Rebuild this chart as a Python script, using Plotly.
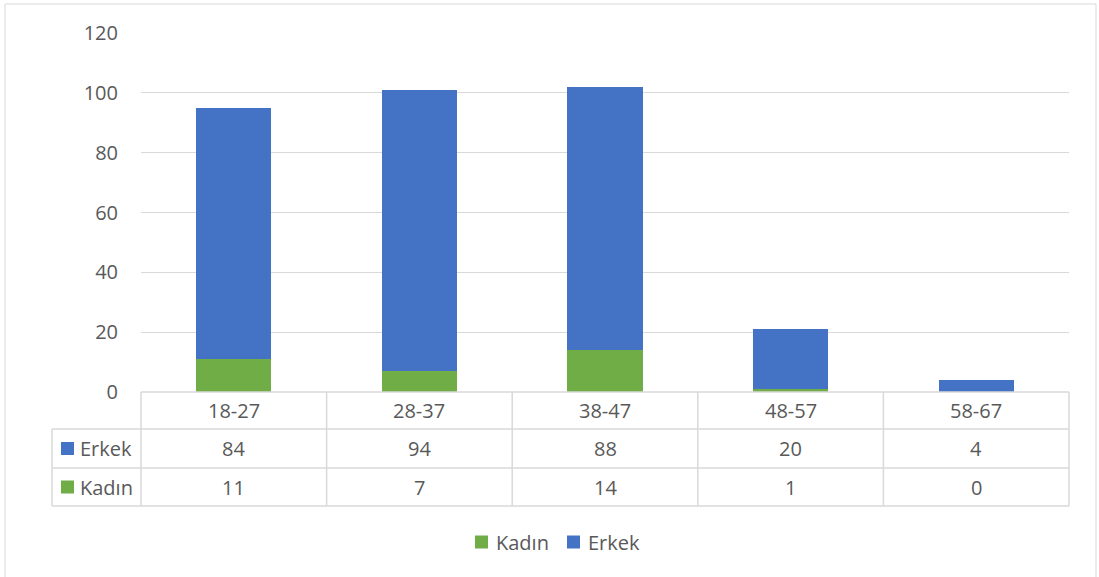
import plotly.graph_objects as go

categories = ["18-27", "28-37", "38-47", "48-57", "58-67"]
erkek = [84, 94, 88, 20, 4]
kadin = [11, 7, 14, 1, 0]
y_ticks = [0, 20, 40, 60, 80, 100, 120]

BLUE = "#4472C4"
GREEN = "#70AD47"
GRID = "#d9d9d9"
TXT = "#595959"
FONT = "Open Sans"
FS = 20

W, H = 1099, 577
L, R, T, B = 141, 1069, 33, 392  # plot area pixels
PW, PH = R - L, B - T


def px(x):
    return (x - L) / PW


def py(y):
    return (B - y) / PH


fig = go.Figure()
fig.add_trace(go.Bar(x=categories, y=kadin, name="Kadın", marker_color=GREEN,
                     width=0.405, marker_line_width=0))
fig.add_trace(go.Bar(x=categories, y=erkek, name="Erkek", marker_color=BLUE,
                     width=0.405, marker_line_width=0))

shapes = []
annotations = []
n = len(categories)
row_y = [392, 429, 468, 506]  # table row boundaries (pixels)
left_x = 52


def line(x0, y0, x1, y1):
    shapes.append(dict(type="line", xref="paper", yref="paper",
                       x0=x0, y0=y0, x1=x1, y1=y1,
                       line=dict(color=GRID, width=1.5), layer="above"))

# horizontal lines
line(0, py(row_y[0]), 1, py(row_y[0]))
for yy in row_y[1:]:
    line(px(left_x), py(yy), 1, py(yy))
# vertical lines
for i in range(n + 1):
    line(i / n, py(row_y[0]), i / n, py(row_y[-1]))
line(px(left_x), py(row_y[1]), px(left_x), py(row_y[-1]))

# category headers and values
rows = [("Erkek", erkek, BLUE), ("Kadın", kadin, GREEN)]
for i, c in enumerate(categories):
    xc = (i + 0.5) / n
    annotations.append(dict(xref="paper", yref="paper", x=xc,
                            y=py((row_y[0] + row_y[1]) / 2), text=c,
                            showarrow=False, xanchor="center", yanchor="middle",
                            font=dict(family=FONT, size=FS, color=TXT)))
    for r, (name, vals, col) in enumerate(rows):
        yc = (row_y[r + 1] + row_y[r + 2]) / 2
        annotations.append(dict(xref="paper", yref="paper", x=xc, y=py(yc),
                                text=str(vals[i]), showarrow=False,
                                xanchor="center", yanchor="middle",
                                font=dict(family=FONT, size=FS, color=TXT)))

for r, (name, vals, col) in enumerate(rows):
    yc = (row_y[r + 1] + row_y[r + 2]) / 2
    shapes.append(dict(type="rect", xref="paper", yref="paper",
                       x0=px(61), x1=px(74), y0=py(yc - 6.5), y1=py(yc + 6.5),
                       fillcolor=col, line=dict(width=0)))
    annotations.append(dict(xref="paper", yref="paper", x=px(78), y=py(yc),
                            text=name, showarrow=False, xanchor="left",
                            yanchor="middle",
                            font=dict(family=FONT, size=FS, color=TXT)))

# legend (drawn as squares + text, centred under the chart)
leg_y = 542
for sx, tx, (name, vals, col) in [(475, 494, rows[1]), (567, 586, rows[0])]:
    shapes.append(dict(type="rect", xref="paper", yref="paper",
                       x0=px(sx), x1=px(sx + 13), y0=py(leg_y - 6.5),
                       y1=py(leg_y + 6.5), fillcolor=col, line=dict(width=0)))
    annotations.append(dict(xref="paper", yref="paper", x=px(tx), y=py(leg_y),
                            text=name, showarrow=False, xanchor="left",
                            yanchor="middle",
                            font=dict(family=FONT, size=FS, color=TXT)))

# outer chart border
shapes.append(dict(type="rect", xref="paper", yref="paper",
                   x0=px(5), x1=px(1096), y0=py(4), y1=py(590),
                   line=dict(color=GRID, width=1), fillcolor="rgba(0,0,0,0)",
                   layer="below"))

fig.update_layout(
    width=W, height=H,
    margin=dict(l=L, r=W - R, t=T, b=H - B),
    barmode="stack",
    showlegend=False,
    paper_bgcolor="white", plot_bgcolor="white",
    font=dict(family=FONT, size=FS, color=TXT),
    xaxis=dict(showticklabels=False, showgrid=False, showline=False,
               ticks="", range=[-0.5, n - 0.5], fixedrange=True),
    yaxis=dict(range=[0, 120], tickvals=y_ticks, showgrid=True,
               gridcolor=GRID, gridwidth=1, zeroline=False, showline=False,
               ticks="", ticklabelstandoff=22,
               tickfont=dict(family=FONT, size=FS, color=TXT)),
    shapes=shapes,
    annotations=annotations,
)

fig.write_html("out.html")
